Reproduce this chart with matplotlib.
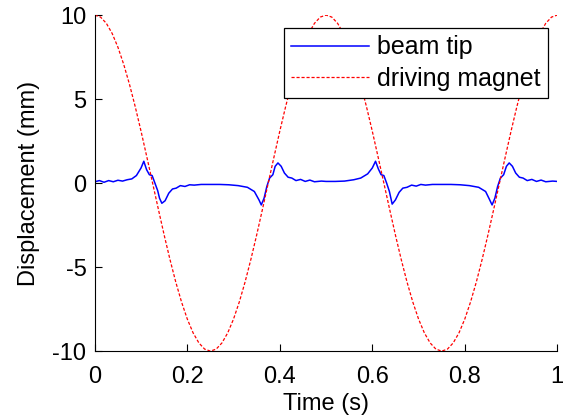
import numpy as np
import matplotlib
matplotlib.use("Agg")
import matplotlib.pyplot as plt

plt.rcParams["font.family"] = ["Liberation Sans", "DejaVu Sans"]

# driving magnet displacement (mm), sampled every 0.0125 s
magnet_t = np.arange(81) * 0.0125
magnet_mm = [10.0, 9.88, 9.51, 8.91, 8.09, 7.07, 5.88, 4.54, 3.09, 1.56,
             0.0, -1.56, -3.09, -4.54, -5.88, -7.07, -8.09, -8.91, -9.51, -9.88,
             -10.0, -9.88, -9.51, -8.91, -8.09, -7.07, -5.88, -4.54, -3.09, -1.56,
             0.0, 1.56, 3.09, 4.54, 5.88, 7.07, 8.09, 8.91, 9.51, 9.88,
             10.0, 9.88, 9.51, 8.91, 8.09, 7.07, 5.88, 4.54, 3.09, 1.56,
             0.0, -1.56, -3.09, -4.54, -5.88, -7.07, -8.09, -8.91, -9.51, -9.88,
             -10.0, -9.88, -9.51, -8.91, -8.09, -7.07, -5.88, -4.54, -3.09, -1.56,
             0.0, 1.56, 3.09, 4.54, 5.88, 7.07, 8.09, 8.91, 9.51, 9.88, 10.0]

# beam tip displacement (mm)
beam_t = [0.000, 0.010, 0.020, 0.030, 0.040, 0.050, 0.060, 0.070, 0.080, 0.090,
          0.100, 0.106, 0.112, 0.118, 0.124, 0.130, 0.136, 0.140, 0.145, 0.152,
          0.160, 0.168, 0.176, 0.185, 0.195, 0.205, 0.215, 0.230, 0.250, 0.270,
          0.290, 0.310, 0.330, 0.345, 0.355, 0.360, 0.366, 0.372, 0.378, 0.385,
          0.390, 0.396, 0.403, 0.410, 0.418, 0.426, 0.435, 0.445, 0.455, 0.465,
          0.475, 0.490, 0.500, 0.520, 0.540, 0.560, 0.575, 0.590, 0.600, 0.607,
          0.613, 0.619, 0.625, 0.631, 0.637, 0.643, 0.650, 0.658, 0.666, 0.675,
          0.685, 0.695, 0.705, 0.715, 0.730, 0.750, 0.770, 0.790, 0.810, 0.830,
          0.845, 0.853, 0.859, 0.865, 0.871, 0.877, 0.884, 0.890, 0.896, 0.903,
          0.910, 0.918, 0.926, 0.935, 0.945, 0.955, 0.965, 0.975, 0.990, 1.000]
beam_mm = [0.08, 0.15, 0.05, 0.15, 0.08, 0.17, 0.12, 0.20, 0.25, 0.45,
           0.90, 1.30, 0.80, 0.50, 0.45, 0.00, -0.45, -0.90, -1.20, -1.05,
           -0.60, -0.35, -0.30, -0.15, -0.20, -0.10, -0.12, -0.08, -0.08, -0.08,
           -0.10, -0.15, -0.25, -0.50, -1.00, -1.30, -0.90, -0.20, 0.30, 0.50,
           1.00, 1.20, 1.00, 0.60, 0.35, 0.30, 0.15, 0.22, 0.10, 0.18,
           0.08, 0.12, 0.10, 0.10, 0.12, 0.20, 0.30, 0.55, 0.90, 1.30,
           0.85, 0.50, 0.45, 0.00, -0.50, -1.25, -1.00, -0.55, -0.30, -0.25,
           -0.12, -0.18, -0.08, -0.12, -0.08, -0.08, -0.08, -0.10, -0.15, -0.25,
           -0.50, -0.95, -1.30, -0.90, -0.20, 0.30, 0.50, 1.00, 1.20, 1.00,
           0.60, 0.35, 0.30, 0.15, 0.22, 0.10, 0.18, 0.08, 0.12, 0.10]

x_ticks = [0, 0.2, 0.4, 0.6, 0.8, 1]
x_labels = ["0", "0.2", "0.4", "0.6", "0.8", "1"]
y_ticks = [-10, -5, 0, 5, 10]
y_labels = ["-10", "-5", "0", "5", "10"]

fig = plt.figure(figsize=(5.71, 4.19), dpi=100)
ax = fig.add_axes([0.166, 0.162, 0.810, 0.802])

ax.plot(beam_t, beam_mm, color="#0000ff", lw=1.1, label="beam tip")
ax.plot(magnet_t, magnet_mm, color="#ff0000", lw=0.9, ls=(0, (2.5, 1.5)),
        label="driving magnet")

ax.set_xlim(0, 1)
ax.set_ylim(-10, 10)
ax.set_xticks(x_ticks)
ax.set_xticklabels(x_labels)
ax.set_yticks(y_ticks)
ax.set_yticklabels(y_labels)
ax.tick_params(direction="in", length=5, width=0.8, labelsize=17)
ax.tick_params(axis="x", pad=10.5)
ax.tick_params(axis="y", pad=6)
for s in ("top", "right"):
    ax.spines[s].set_visible(False)
ax.set_xlabel("Time (s)", fontsize=17, labelpad=4)
ax.set_ylabel("Displacement (mm)", fontsize=17, labelpad=9)

leg = ax.legend(loc="upper right", bbox_to_anchor=(0.9805, 0.962), fontsize=18,
                frameon=True, fancybox=False, framealpha=1, edgecolor="black",
                handlelength=3.1, handletextpad=0.35, borderpad=0.3, labelspacing=0.3,
                borderaxespad=0)
leg.get_frame().set_linewidth(0.9)

fig.savefig("out.png", dpi=100)
